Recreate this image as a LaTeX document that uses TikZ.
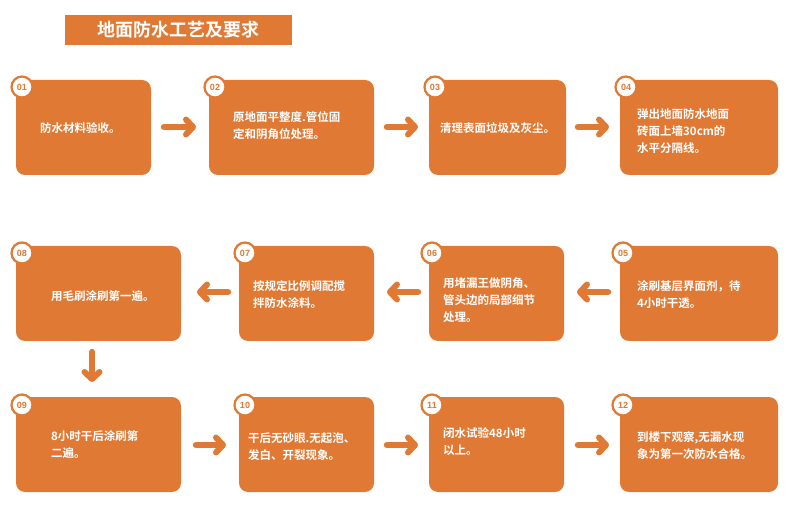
\documentclass[tikz,border=0pt]{standalone}
\usepackage{fontspec}
\newfontfamily\cjk{Noto Sans CJK SC}[BoldFont=* Bold]
\setsansfont{Liberation Sans}
\usetikzlibrary{arrows.meta}
\definecolor{org}{HTML}{E07934}
\begin{document}
\begin{tikzpicture}[x=1pt,y=-1pt,
  stepbox/.style={fill=org,rounded corners=9pt},
  badge/.style={circle,draw=org,line width=2.2pt,fill=white,minimum size=21pt,inner sep=0pt,font=\sffamily\bfseries\fontsize{9}{9}\selectfont,text=org},
  txt/.style={anchor=west,align=left,text=white,inner sep=0pt,font=\cjk\bfseries\fontsize{11.5}{17}\selectfont},
  flow/.style={draw=org,line width=6.5pt,line cap=round,-{Straight Barb[length=7pt,width=15pt,line width=6pt,round]}}]
\useasboundingbox (0,0) rectangle (798,529);
\node[fill=org,minimum width=227pt,minimum height=30pt,inner sep=0pt,text=white,font=\cjk\bfseries\fontsize{18}{20}\selectfont] (title) at (178,30) {地面防水工艺及要求};
% boxes
\path[stepbox] (16,80) rectangle (151,175) coordinate (b1);
\path[stepbox] (209,80) rectangle (374,175);
\path[stepbox] (429,80) rectangle (566,175);
\path[stepbox] (620,80) rectangle (778,175);
\path[stepbox] (620,246) rectangle (778,341);
\path[stepbox] (429,246) rectangle (564,341);
\path[stepbox] (239,246) rectangle (374,341);
\path[stepbox] (16,246) rectangle (181,341);
\path[stepbox] (16,397) rectangle (181,492);
\path[stepbox] (239,397) rectangle (374,492);
\path[stepbox] (429,397) rectangle (564,492);
\path[stepbox] (620,397) rectangle (778,492);
% badges
\node[badge] (n1) at (22,87) {01};
\node[badge] (n2) at (215,87) {02};
\node[badge] (n3) at (435,87) {03};
\node[badge] (n4) at (626,87) {04};
\node[badge] (n5) at (623,253) {05};
\node[badge] (n6) at (432,253) {06};
\node[badge] (n7) at (245,253) {07};
\node[badge] (n8) at (22,253) {08};
\node[badge] (n9) at (22,405) {09};
\node[badge] (n10) at (245,405) {10};
\node[badge] (n11) at (432,405) {11};
\node[badge] (n12) at (623,405) {12};
% texts
\node[txt] (t1) at (40,128) {防水材料验收。};
\node[txt] (t2) at (233,126) {原地面平整度.管位固\\定和阴角位处理。};
\node[txt] (t3) at (440,128) {清理表面垃圾及灰尘。};
\node[txt] (t4) at (637,131) {弹出地面防水地面\\砖面上墙30cm的\\水平分隔线。};
\node[txt] (t5) at (637,295) {涂刷基层界面剂，待\\4小时干透。};
\node[txt] (t6) at (443,300) {用堵漏王做阴角、\\管头边的局部细节\\处理。};
\node[txt] (t7) at (253,295) {按规定比例调配搅\\拌防水涂料。};
\node[txt] (t8) at (51,296) {用毛刷涂刷第一遍。};
\node[txt] (t9) at (51,445) {8小时干后涂刷第\\二遍。};
\node[txt] (t10) at (248,447) {干后无砂眼.无起泡、\\发白、开裂现象。};
\node[txt] (t11) at (443,442) {闭水试验48小时\\以上。};
\node[txt] (t12) at (637,446) {到楼下观察,无漏水现\\象为第一次防水合格。};
% arrow coordinates
\coordinate (a1s) at (164,127); \coordinate (a1e) at (196,127);
\coordinate (a2s) at (387,127); \coordinate (a2e) at (418,127);
\coordinate (a3s) at (578,127); \coordinate (a3e) at (609,127);
\coordinate (a5s) at (608,292); \coordinate (a5e) at (577,292);
\coordinate (a6s) at (418,292); \coordinate (a6e) at (387,292);
\coordinate (a7s) at (228,292); \coordinate (a7e) at (197,292);
\coordinate (a8s) at (92,352); \coordinate (a8e) at (92,382);
\coordinate (a9s) at (196,445); \coordinate (a9e) at (226,445);
\coordinate (a10s) at (387,445); \coordinate (a10e) at (418,445);
\coordinate (a11s) at (578,445); \coordinate (a11e) at (609,445);
\foreach \i in {1,2,3,5,6,7,8,9,10,11} \draw[flow] (a\i s) -- (a\i e);
\end{tikzpicture}
\end{document}
